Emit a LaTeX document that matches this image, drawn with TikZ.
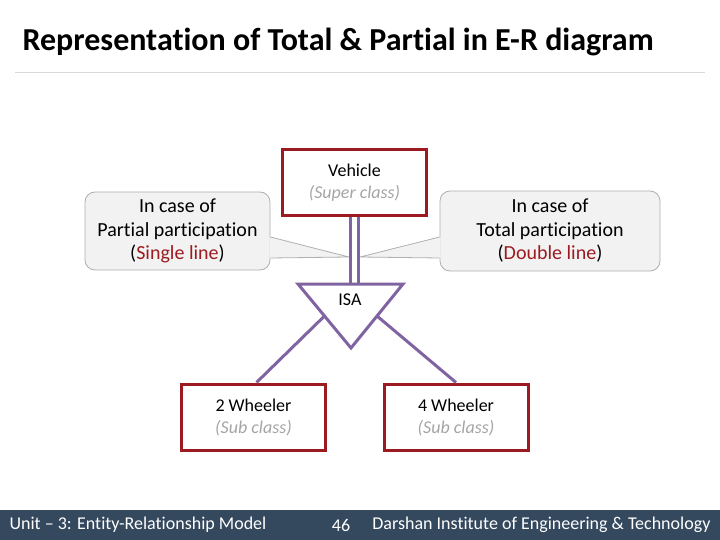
\documentclass[tikz,border=0pt]{standalone}
\usepackage{fontspec}
\setmainfont{Carlito}[Ligatures=NoCommon]
\usetikzlibrary{calc}
\definecolor{ervred}{RGB}{155,27,32}
\definecolor{ervpurple}{RGB}{128,100,162}
\definecolor{calloutfill}{RGB}{242,242,242}
\definecolor{calloutline}{RGB}{175,175,175}
\definecolor{footbar}{RGB}{52,72,94}
\definecolor{capgray}{RGB}{165,165,165}

\begin{document}
\begin{tikzpicture}[x=1pt,y=-1pt,line join=miter,
  body/.style={font=\fontsize{18}{22}\selectfont},
  entity/.style={body,draw=ervred,line width=3pt,fill=white,minimum width=144pt,minimum height=66pt,align=center,inner sep=0pt},
  callout/.style={font=\fontsize{20}{23.5}\selectfont,draw=calloutline,fill=calloutfill,line width=0.8pt,rounded corners=10pt,align=center,inner sep=0pt},
  isaline/.style={draw=ervpurple,line width=3pt},
  foot/.style={text=white,font=\fontsize{18}{20}\selectfont}]
\useasboundingbox (0,0) rectangle (720,540);
% title
\node[anchor=west,font=\fontsize{32}{36}\selectfont\bfseries] (title) at (19,42) {Representation of Total \& Partial in E-R diagram};
\draw[black!15,line width=0.8pt] (15,72) -- (705,72);
% callouts
\node[callout,minimum width=185pt,minimum height=78pt] (partial) at (177.5,231) {In case of\\Partial participation\\(\textcolor{ervred}{Single line})};
\node[callout,minimum width=220pt,minimum height=80pt] (total) at (550,231) {In case of\\Total participation\\(\textcolor{ervred}{Double line})};
\coordinate (ptip) at (349,257);
\coordinate (ttip) at (360,257);
\fill[calloutfill] ($(partial.east)+(-1,6)$) -- (ptip) -- ($(partial.east)+(-1,27)$) -- cycle;
\draw[calloutline,line width=0.8pt] ($(partial.east)+(0,6)$) -- (ptip) -- ($(partial.east)+(0,27)$);
\fill[calloutfill] ($(total.west)+(1,6)$) -- (ttip) -- ($(total.west)+(1,27)$) -- cycle;
\draw[calloutline,line width=0.8pt] ($(total.west)+(0,6)$) -- (ttip) -- ($(total.west)+(0,27)$);
% entities
\node[entity] (vehicle) at (354.5,183) {Vehicle\\\textcolor{capgray}{\itshape (Super class)}};
\node[entity] (twowheel) at (253.5,417) {2 Wheeler\\\textcolor{capgray}{\itshape (Sub class)}};
\node[entity] (fourwheel) at (456,417) {4 Wheeler\\\textcolor{capgray}{\itshape (Sub class)}};
% ISA triangle
\coordinate (isatl) at (298,284);
\coordinate (isatr) at (403,284);
\coordinate (isatip) at (351,348);
\draw[isaline] (isatl) -- (isatr) -- (isatip) -- cycle;
\node[body] (isa) at (350,300) {ISA};
\draw[isaline] ([xshift=-4pt]vehicle.south) -- ([xshift=-4pt]vehicle.south |- isatl);
\draw[isaline] ([xshift=4pt]vehicle.south) -- ([xshift=4pt]vehicle.south |- isatl);
\draw[isaline] ($(isatl)!0.5!(isatip)$) -- ([xshift=3pt]twowheel.north);
\draw[isaline] ($(isatr)!0.5!(isatip)$) -- (fourwheel.north);
% footer
\fill[footbar] (0,510) rectangle (720,540);
\node[foot,anchor=west] (unit) at (6,525) {Unit -- 3: Entity-Relationship Model};
\node[foot] (page) at (341,525) {46};
\node[foot,anchor=east] (inst) at (714,525) {Darshan Institute of Engineering \& Technology};
\end{tikzpicture}
\end{document}
